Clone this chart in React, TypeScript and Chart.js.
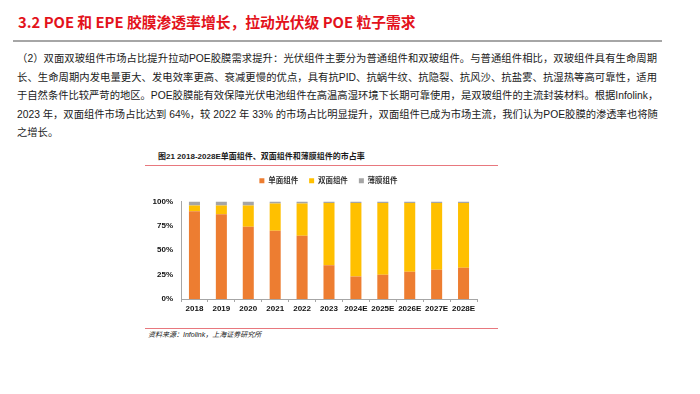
import React, { useEffect, useRef } from "react";
import { Chart, registerables } from "chart.js";

Chart.register(...registerables);

const categories = ["2018", "2019", "2020", "2021", "2022", "2023", "2024E", "2025E", "2026E", "2027E", "2028E"];
const monoFacial = [90, 87, 74, 70, 65, 34.5, 23, 25, 28, 30, 32];
const biFacial = [6, 9, 22, 28, 33, 64, 75.5, 73.5, 70.5, 68.5, 66.5];
const thinFilm = [4, 4, 4, 2, 2, 1.5, 1.5, 1.5, 1.5, 1.5, 1.5];
const seriesNames = ["单面组件", "双面组件", "薄膜组件"];
const yTicks = [0, 25, 50, 75, 100];

const paragraphLines = [
  "（2）双面双玻组件市场占比提升拉动POE胶膜需求提升：光伏组件主要分为普通组件和双玻组件。与普通组件相比，双玻组件具有生命周期",
  "长、生命周期内发电量更大、发电效率更高、衰减更慢的优点，具有抗PID、抗蜗牛纹、抗隐裂、抗风沙、抗盐雾、抗湿热等高可靠性，适用",
  "于自然条件比较严苛的地区。POE胶膜能有效保障光伏电池组件在高温高湿环境下长期可靠使用，是双玻组件的主流封装材料。根据Infolink，",
  "2023 年，双面组件市场占比达到 64%，较 2022 年 33% 的市场占比明显提升，双面组件已成为市场主流，我们认为POE胶膜的渗透率也将随",
  "之增长。",
];

const FONT = "'Liberation Sans', 'Noto Sans CJK SC', sans-serif";

const legendTweak = {
  id: "legendTweak",
  beforeInit(chart: any) {
    const legend = chart.legend;
    if (!legend) return;
    const origFit = legend.fit;
    legend.fit = function () {
      origFit.call(this);
      this.height += 7;
    };
  },
  afterLayout(chart: any) {
    const legend = chart.legend;
    if (!legend) return;
    legend.left += 20;
    legend.right += 20;
  },
};

export default function App() {
  const canvasRef = useRef<HTMLCanvasElement | null>(null);

  useEffect(() => {
    document.body.style.margin = "0";
    const ctx = canvasRef.current;
    if (!ctx) return;
    const chart = new Chart(ctx, {
      type: "bar",
      data: {
        labels: categories,
        datasets: [
          { label: seriesNames[0], data: monoFacial, backgroundColor: "#ED7D31" },
          { label: seriesNames[1], data: biFacial, backgroundColor: "#FFC000" },
          { label: seriesNames[2], data: thinFilm, backgroundColor: "#A5A5A5" },
        ],
      },
      plugins: [legendTweak],
      options: {
        animation: false,
        responsive: false,
        maintainAspectRatio: false,
        layout: { padding: { top: 4, right: 29, left: 0, bottom: 0 } },
        datasets: { bar: { categoryPercentage: 0.82, barPercentage: 0.5 } },
        plugins: {
          tooltip: { enabled: false },
          legend: {
            position: "top",
            labels: {
              boxWidth: 5,
              boxHeight: 5,
              padding: 11,
              color: "#333",
              font: { family: FONT, size: 7.5, weight: "bold" },
            },
          },
        },
        scales: {
          x: {
            stacked: true,
            grid: { display: true, drawOnChartArea: false, drawTicks: true, tickLength: 3, color: "#A6A6A6", offset: true },
            border: { display: true, color: "#A6A6A6", width: 1 },
            ticks: { color: "#111", padding: 2, font: { family: FONT, size: 8, weight: "bold" }, maxRotation: 0, autoSkip: false },
            afterFit: (s: any) => { s.height = 21; },
          },
          y: {
            stacked: true,
            min: 0,
            max: 100,
            grid: { display: false, drawTicks: false },
            border: { display: true, color: "#A6A6A6", width: 1 },
            afterBuildTicks: (s: any) => { s.ticks = yTicks.map((v) => ({ value: v })); },
            ticks: {
              color: "#111",
              padding: 8,
              font: { family: FONT, size: 8, weight: "bold" },
              callback: (v: any) => v + "%",
            },
            afterFit: (s: any) => { s.width = 41; },
          },
        },
      },
    });
    return () => chart.destroy();
  }, []);

  return (
    <div style={{ position: "absolute", left: 0, top: 0, width: 700, height: 394, background: "#fff", overflow: "hidden", fontFamily: FONT }}>
      <div
        style={{
          position: "absolute",
          left: 18,
          top: 11,
          fontFamily: "'Noto Sans CJK SC', sans-serif",
          fontWeight: 700,
          fontSize: 14.8,
          lineHeight: "22px",
          color: "#E3121B",
          whiteSpace: "nowrap",
        }}
      >
        3.2 POE 和 EPE 胶膜渗透率增长，拉动光伏级 POE 粒子需求
      </div>
      <div style={{ position: "absolute", left: 13, top: 40, width: 649, height: 2, background: "#A6A6A6" }} />
      <div style={{ position: "absolute", left: 17, top: 50, width: 640, fontSize: 10.3, lineHeight: "18.5px", color: "#1a1a1a" }}>
        {paragraphLines.map((line, i) => (
          <div
            key={i}
            style={{
              whiteSpace: "nowrap",
              textAlign: i === paragraphLines.length - 1 ? "left" : "justify",
              textAlignLast: i === paragraphLines.length - 1 ? "left" : "justify",
              height: 18.5,
            }}
          >
            {line}
          </div>
        ))}
      </div>
      <div style={{ position: "absolute", left: 158, top: 151, fontSize: 8, fontWeight: 700, lineHeight: "12px", color: "#1a1a1a", whiteSpace: "nowrap" }}>
        图21 2018-2028E单面组件、双面组件和薄膜组件的市占率
      </div>
      <div style={{ position: "absolute", left: 145, top: 165, width: 353, height: 1, background: "#E8787E" }} />
      <canvas ref={canvasRef} width={366} height={158} style={{ position: "absolute", left: 140, top: 162, width: 366, height: 158 }} />
      <div style={{ position: "absolute", left: 145, top: 328, width: 353, height: 1, background: "#E8787E" }} />
      <div style={{ position: "absolute", left: 148, top: 330, fontSize: 7, fontStyle: "italic", lineHeight: "10px", color: "#1a1a1a", whiteSpace: "nowrap" }}>
        资料来源：Infolink，上海证券研究所
      </div>
    </div>
  );
}
